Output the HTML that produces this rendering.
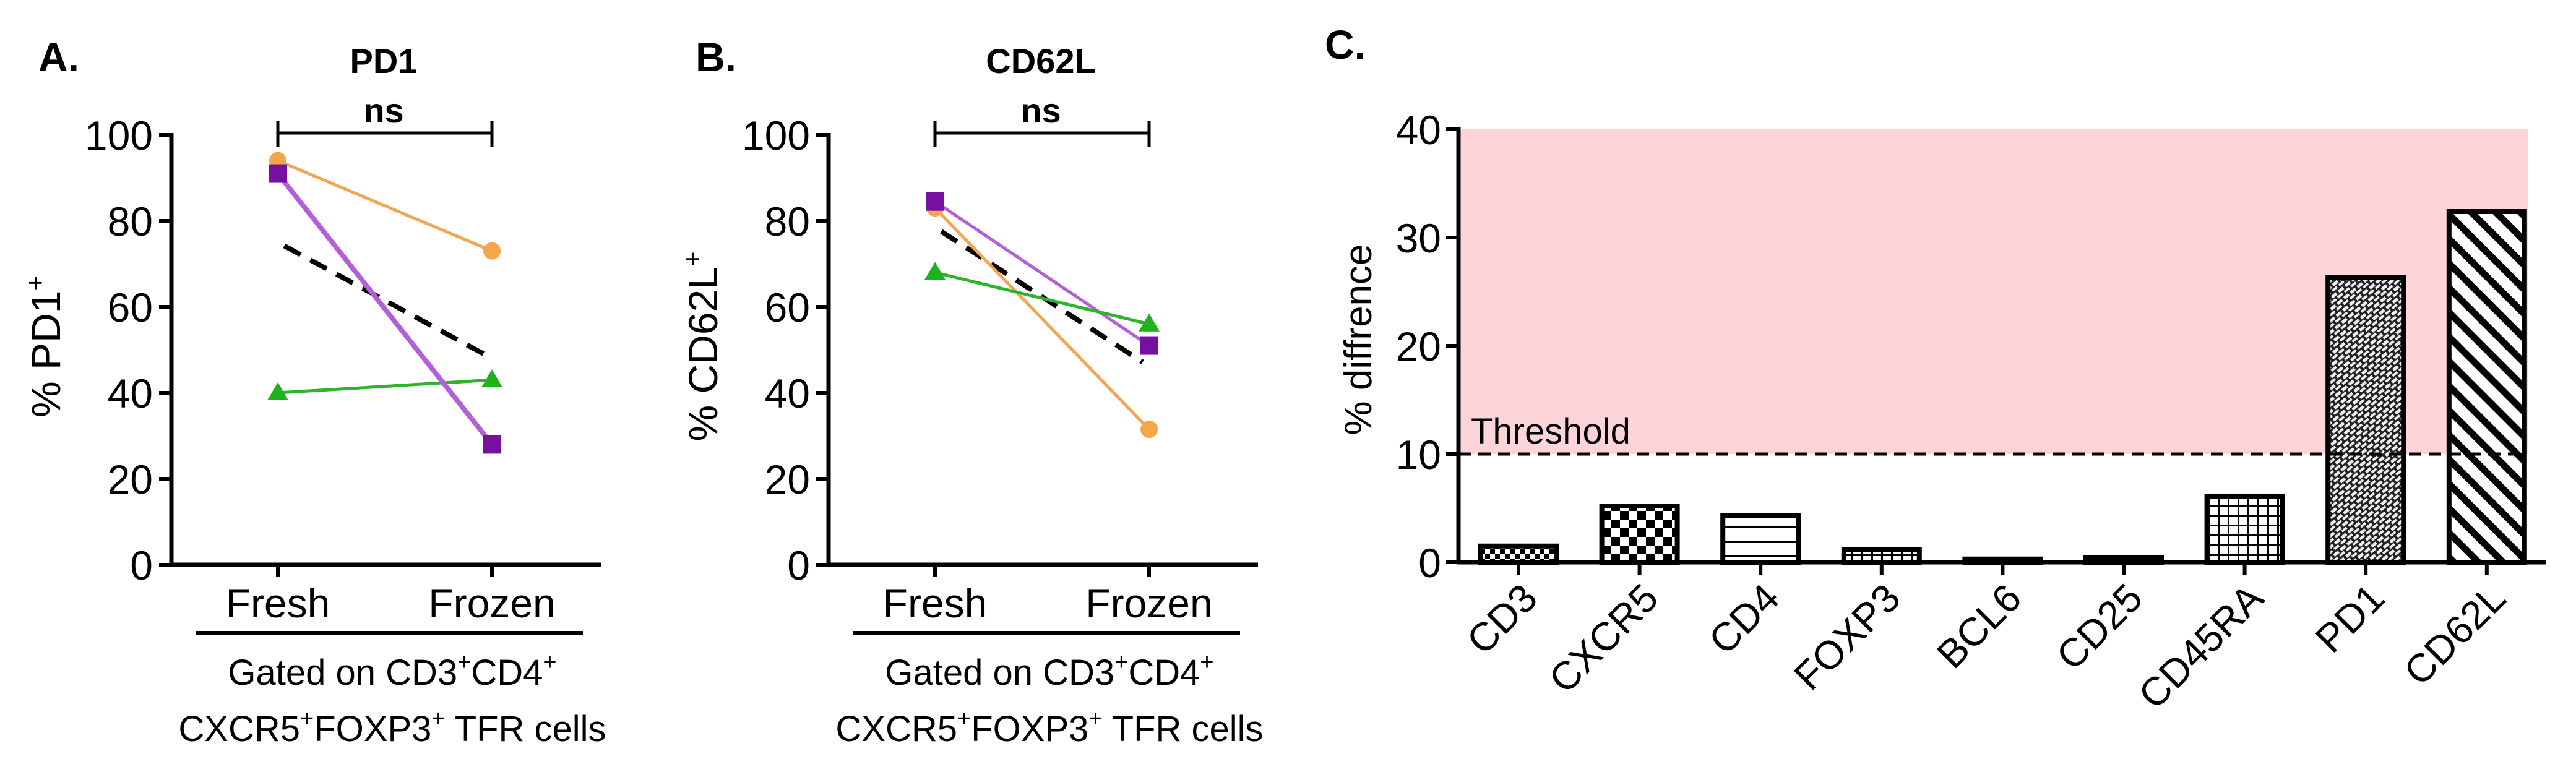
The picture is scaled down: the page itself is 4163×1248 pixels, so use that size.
<!DOCTYPE html>
<html><head><meta charset="utf-8"><style>
html,body{margin:0;padding:0;background:#fff}
svg{display:block}
text{font-family:"Liberation Sans",Arial,sans-serif;fill:#000}
</style></head><body>
<svg id="fig" width="4163" height="1248" viewBox="0 0 4163 1248" xmlns="http://www.w3.org/2000/svg">
<defs>
<pattern id="pCD3" width="16" height="16" patternUnits="userSpaceOnUse"><rect width="16" height="16" fill="#fff"/><rect width="8" height="8" fill="#000"/><rect x="8" y="8" width="8" height="8" fill="#000"/></pattern>
<pattern id="pCXCR5" width="28" height="28" patternUnits="userSpaceOnUse"><rect width="28" height="28" fill="#fff"/><rect width="14" height="14" fill="#000"/><rect x="14" y="14" width="14" height="14" fill="#000"/></pattern>
<pattern id="pCD4" width="20" height="24" patternUnits="userSpaceOnUse"><rect width="20" height="24" fill="#fff"/><rect y="10" width="20" height="3" fill="#000"/></pattern>
<pattern id="pGrid" width="16" height="16" patternUnits="userSpaceOnUse"><rect width="16" height="16" fill="#fff"/><rect width="16" height="3" fill="#000"/><rect width="3" height="16" fill="#000"/></pattern>
<pattern id="pPD1" width="14" height="14" patternUnits="userSpaceOnUse" patternTransform="rotate(-40)"><rect width="14" height="14" fill="#222"/><rect x="2" y="2" width="10" height="5" fill="#eee"/><rect x="-5" y="9" width="10" height="4" fill="#eee"/><rect x="9" y="9" width="10" height="4" fill="#eee"/></pattern>
<pattern id="pCD62L" width="28" height="28" patternUnits="userSpaceOnUse" patternTransform="rotate(-45)"><rect width="28" height="28" fill="#fff"/><rect width="11" height="28" fill="#000"/></pattern>
</defs>
<g id="panelA"></g>
<g id="panelB"></g>
<g id="panelC"></g>
</svg>
<script>
const groups = ["Fresh", "Frozen"];
const yTicksAB = [0, 20, 40, 60, 80, 100];
const pd1Orange = [94, 73];
const pd1Purple = [91, 28];
const pd1Green = [40, 43];
const cd62Orange = [83, 31.5];
const cd62Purple = [84.5, 51];
const cd62Green = [68, 56];
const categoriesC = ["CD3", "CXCR5", "CD4", "FOXP3", "BCL6", "CD25", "CD45RA", "PD1", "CD62L"];
const valuesC = [1.5, 5.2, 4.3, 1.2, 0.3, 0.4, 6.1, 26.3, 32.4];
const patternsC = ["pCD3", "pCXCR5", "pCD4", "pGrid", "pGrid", "pGrid", "pGrid", "pPD1", "pCD62L"];
const yTicksC = [0, 10, 20, 30, 40];
const thresholdC = 10;
const yMaxC = 40;

const NS = "http://www.w3.org/2000/svg";
function mk(parent, tag, attrs, txt) {
  const e = document.createElementNS(NS, tag);
  for (const k in attrs) e.setAttribute(k, attrs[k]);
  if (txt !== undefined) e.textContent = txt;
  parent.appendChild(e);
  return e;
}

function panelAB(gid, ox, letter, title, ylab, series) {
  const g = document.getElementById(gid);
  const axX = ox, y0 = 913, yTop = 218;
  const yS = v => y0 - (v / 100) * (y0 - yTop);
  const xS = i => axX + 172 + i * 346;
  let e;
  e = mk(g, "text", {x: axX - 215, y: 115, "font-size": 66, "font-weight": "bold"}, letter);
  
  
  e = mk(g, "text", {x: axX + 343, y: 118, "font-size": 56, "font-weight": "bold", "text-anchor": "middle"}, title);
  
  
  e = mk(g, "text", {x: axX + 343, y: 198, "font-size": 56, "font-weight": "bold", "text-anchor": "middle"}, "ns");
  
  
  e = mk(g, "path", {d: `M${xS(0)} ${yS(100)-3}H${xS(1)}M${xS(0)} 195V237M${xS(1)} 195V237`, stroke: "#000", "stroke-width": 5, fill: "none"});
  
  
  e = mk(g, "path", {d: `M${axX} ${yTop-3}V${y0+3}M${axX-3} ${y0}H${axX+694}`, stroke: "#000", "stroke-width": 7, fill: "none"});
  
  
  yTicksAB.forEach(t => {
    const tk = mk(g, "line", {x1: axX - 20, x2: axX, y1: yS(t), y2: yS(t), stroke: "#000", "stroke-width": 6});
    
    
    const tl = mk(g, "text", {x: axX - 30, y: yS(t) + 24, "font-size": 66, "text-anchor": "end"}, String(t));
    
    
  });
  groups.forEach((gr, i) => {
    const tk = mk(g, "line", {x1: xS(i), x2: xS(i), y1: y0, y2: y0 + 20, stroke: "#000", "stroke-width": 6});
    
    
    const tl = mk(g, "text", {x: xS(i), y: 998, "font-size": 66, "text-anchor": "middle"}, gr);
    
    
  });
  e = mk(g, "line", {x1: axX + 40, x2: axX + 665, y1: 1023, y2: 1023, stroke: "#000", "stroke-width": 6});
  
  
  e = mk(g, "text", {x: axX + 357, y: 1107, "font-size": 58, "text-anchor": "middle"});
  e.innerHTML = 'Gated on CD3<tspan dy="-24" font-size="38">+</tspan><tspan dy="24">CD4</tspan><tspan dy="-24" font-size="38">+</tspan>';
  
  
  e = mk(g, "text", {x: axX + 357, y: 1198, "font-size": 58, "text-anchor": "middle"});
  e.innerHTML = 'CXCR5<tspan dy="-24" font-size="38">+</tspan><tspan dy="24">FOXP3</tspan><tspan dy="-24" font-size="38">+</tspan><tspan dy="24"> TFR cells</tspan>';
  
  
  e = mk(g, "text", {x: 0, y: 0, "font-size": 66, "text-anchor": "middle", transform: `translate(${axX - 180},560) rotate(-90)`});
  e.innerHTML = `% ${ylab}<tspan dy="-26" font-size="42">+</tspan>`;
  
  
  const m0 = (series[0].v[0] + series[1].v[0] + series[2].v[0]) / 3;
  const m1 = (series[0].v[1] + series[1].v[1] + series[2].v[1]) / 3;
  const dx = xS(1) - xS(0), f = 0.03;
  e = mk(g, "line", {x1: xS(0) + dx * f, y1: yS(m0 - (m1 - m0) * -f), x2: xS(1) - dx * f, y2: yS(m1 - (m1 - m0) * f), stroke: "#000", "stroke-width": 8, "stroke-dasharray": "30 18"});
  
  
  series.forEach(s => {
    const ln = mk(g, "line", {x1: xS(0), y1: yS(s.v[0]), x2: xS(1), y2: yS(s.v[1]), stroke: s.lc, "stroke-width": s.w});
    
    
    s.v.forEach((v, i) => {
      const x = xS(i), y = yS(v);
      let m;
      if (s.shape === "circle") m = mk(g, "circle", {cx: x, cy: y, r: 14, fill: s.mc});
      else if (s.shape === "square") m = mk(g, "rect", {x: x - 15, y: y - 15, width: 30, height: 30, fill: s.mc});
      else m = mk(g, "polygon", {points: `${x},${y-17} ${x+17},${y+12} ${x-17},${y+12}`, fill: s.mc});
      
      
    });
  });
}

panelAB("panelA", 277, "A.", "PD1", "PD1", [
  {name: "green-donor", v: pd1Green, lc: "#2cb52c", mc: "#1fb21f", w: 5, shape: "tri"},
  {name: "orange-donor", v: pd1Orange, lc: "#f2a552", mc: "#f5a54a", w: 5, shape: "circle"},
  {name: "purple-donor", v: pd1Purple, lc: "#b25fd8", mc: "#7510a0", w: 8, shape: "square"}
]);
panelAB("panelB", 1339, "B.", "CD62L", "CD62L", [
  {name: "orange-donor", v: cd62Orange, lc: "#f2a552", mc: "#f5a54a", w: 5, shape: "circle"},
  {name: "purple-donor", v: cd62Purple, lc: "#b25fd8", mc: "#7510a0", w: 5, shape: "square"},
  {name: "green-donor", v: cd62Green, lc: "#2cb52c", mc: "#1fb21f", w: 5, shape: "tri"}
]);

(function () {
  const g = document.getElementById("panelC");
  const axX = 2357, y0 = 909, yTop = 209, xEnd = 4115;
  const yS = v => y0 - (v / yMaxC) * (y0 - yTop);
  const xS = i => 2454 + i * 195.6;
  let e;
  e = mk(g, "rect", {x: axX, y: yS(yMaxC), width: 4086 - axX, height: yS(thresholdC) - yS(yMaxC), fill: "#fdd5d8"});
  
  
  e = mk(g, "text", {x: 2141, y: 95, "font-size": 66, "font-weight": "bold"}, "C.");
  
  
  e = mk(g, "text", {x: 0, y: 0, "font-size": 62, "text-anchor": "middle", transform: `translate(2216,549) rotate(-90)`}, "% diffrence");
  
  
  valuesC.forEach((v, i) => {
    const b = mk(g, "rect", {x: xS(i) - 61, y: yS(v), width: 122, height: Math.max(0.5, y0 - yS(v)), fill: `url(#${patternsC[i]})`, stroke: "#000", "stroke-width": 8});
    
    
  });
  e = mk(g, "line", {x1: axX, x2: 4086, y1: yS(thresholdC), y2: yS(thresholdC), stroke: "#000", "stroke-width": 5, "stroke-dasharray": "20 12"});
  
  
  e = mk(g, "text", {x: 2377, y: yS(thresholdC) - 17, "font-size": 58}, "Threshold");
  
  
  e = mk(g, "path", {d: `M${axX} ${yTop-3}V${y0+3}M${axX-3} ${y0}H${xEnd}`, stroke: "#000", "stroke-width": 7, fill: "none"});
  
  
  yTicksC.forEach(t => {
    const tk = mk(g, "line", {x1: axX - 20, x2: axX, y1: yS(t), y2: yS(t), stroke: "#000", "stroke-width": 6});
    
    
    const tl = mk(g, "text", {x: axX - 28, y: yS(t) + 24, "font-size": 66, "text-anchor": "end"}, String(t));
    
    
  });
  categoriesC.forEach((c, i) => {
    const tk = mk(g, "line", {x1: xS(i), x2: xS(i), y1: y0, y2: y0 + 20, stroke: "#000", "stroke-width": 6});
    
    
    const tl = mk(g, "text", {x: 0, y: 0, "font-size": 64, "text-anchor": "end", transform: `translate(${xS(i) + 34},${y0 + 62}) rotate(-45)`}, c);
    
    
  });
})();
</script>
</body></html>
